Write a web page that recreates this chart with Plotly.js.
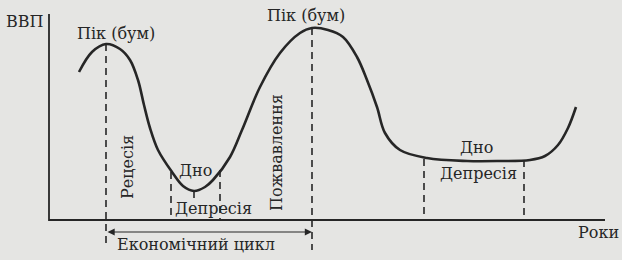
<!DOCTYPE html>
<html>
<head>
<meta charset="utf-8">
<script src="https://cdn.plot.ly/plotly-3.0.1.min.js"></script>
<style>html,body{margin:0;padding:0;background:#e5e5e3;}#chart{width:622px;height:260px;}</style>
</head>
<body>
<div id="chart"></div>
<script>
// Business cycle curve: time (x) and GDP level (y)
const cycleX = [79, 92, 106, 120, 130, 138, 144, 150, 158, 172, 183, 194, 205, 213, 230, 242, 260, 280, 300, 312, 328, 343, 357, 367, 377, 385, 400, 427, 467, 500, 530, 545, 558, 568, 576];
const cycleY = [188, 208, 216, 211, 200, 180, 155, 132, 110, 88, 74, 69, 73, 80, 103, 130, 173, 207, 227, 232, 230, 223, 203, 180, 153, 127, 110, 102, 99, 99, 100, 104, 115, 132, 153];
// Phase markers (time positions) and the GDP levels each dashed marker spans
const markerX = [106, 312, 171, 194, 220, 424, 524];
const markerTop = [216, 232, 88, 69, 90, 101, 100];
const markerBottom = [12, 10, 40, 62, 40, 40, 40];
// Axes extents
const axisOrigin = [49, 40];
const axisXEnd = 605;
const axisYEnd = 246;
// Economic cycle span
const cycleSpan = [106, 312];

const ink = '#262626';
const traces = [];
traces.push({x: cycleX, y: cycleY, mode: 'lines', line: {shape: 'spline', smoothing: 1.0, color: ink, width: 2.6}, hoverinfo: 'skip'});
for (let i = 0; i < markerX.length; i++) {
  traces.push({x: [markerX[i], markerX[i]], y: [markerTop[i], markerBottom[i]], mode: 'lines', line: {color: ink, width: 1.6, dash: '7px,5px'}, hoverinfo: 'skip'});
}
traces.push({x: [axisOrigin[0], axisOrigin[0], axisXEnd], y: [axisYEnd, axisOrigin[1], axisOrigin[1]], mode: 'lines', line: {color: ink, width: 1.8}, hoverinfo: 'skip'});

const font = {family: 'DejaVu Serif, Liberation Serif, serif', size: 16, color: ink};
function lab(x, y, text, extra) {
  return Object.assign({x: x, y: y, xref: 'x', yref: 'y', text: text, showarrow: false, font: font}, extra || {});
}
const annotations = [
  lab(25, 239, 'ВВП'),
  lab(116, 227, 'Пік (бум)'),
  lab(306, 245, 'Пік (бум)'),
  lab(195, 90, 'Дно'),
  lab(213, 52, 'Депресія'),
  lab(127, 93, 'Рецесія', {textangle: -90}),
  lab(276, 107, 'Пожвавлення', {textangle: -90}),
  lab(476, 113, 'Дно'),
  lab(478, 87, 'Депресія'),
  lab(598, 28, 'Роки'),
  lab(196, 16, 'Економічний цикл'),
  {x: cycleSpan[1], y: 28, ax: cycleSpan[0], ay: 28, xref: 'x', yref: 'y', axref: 'x', ayref: 'y', text: '', showarrow: true, arrowhead: 2, arrowside: 'end+start', arrowsize: 1.2, arrowwidth: 1.2, arrowcolor: ink}
];

const layout = {
  width: 622, height: 260,
  margin: {l: 0, r: 0, t: 0, b: 0},
  paper_bgcolor: '#e5e5e3', plot_bgcolor: '#e5e5e3',
  showlegend: false,
  xaxis: {range: [0, 622], visible: false, fixedrange: true},
  yaxis: {range: [0, 260], visible: false, fixedrange: true},
  annotations: annotations
};
Plotly.newPlot('chart', traces, layout, {staticPlot: true, displayModeBar: false});
</script>
</body>
</html>
